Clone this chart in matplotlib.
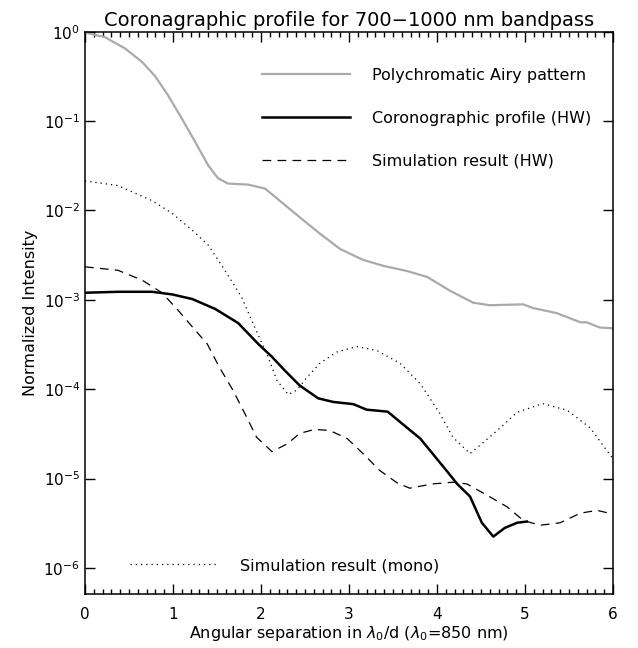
import numpy as np
import matplotlib.pyplot as plt
from matplotlib.ticker import MultipleLocator, FixedLocator, NullLocator

# ------------------------------------------------------------------
# dati (x in lambda0/d, intensita' normalizzata)

# Polychromatic Airy pattern
airy_x = [0, 0.227, 0.455, 0.648, 0.795, 0.943, 1.10, 1.25, 1.40, 1.51, 1.625, 1.85,
          2.045, 2.25, 2.48, 2.67, 2.90, 3.16, 3.39, 3.66, 3.89, 4.15, 4.41, 4.60,
          4.98, 5.09, 5.36, 5.63, 5.70, 5.85, 6.0]
airy_y = [0.98, 0.87, 0.65, 0.46, 0.32, 0.195, 0.107, 0.059, 0.032, 0.023, 0.020, 0.0195,
          0.0176, 0.012, 0.0078, 0.0055, 0.0037, 0.0028, 0.0024, 0.0021, 0.0018, 0.00126,
          0.00093, 0.00087, 0.00089, 0.00081, 0.00071, 0.00056, 0.00056, 0.00049, 0.00048]

# Coronographic profile (HW)
coro_x = [0, 0.375, 0.76, 0.99, 1.22, 1.48, 1.74, 1.97, 2.125, 2.27, 2.44, 2.65,
          2.82, 3.05, 3.20, 3.44, 3.58, 3.81, 3.95, 4.09, 4.23, 4.375, 4.51, 4.64,
          4.77, 4.91, 5.02]
coro_y = [0.0012, 0.00123, 0.00123, 0.00115, 0.00102, 0.00079, 0.00055, 0.00032,
          0.00023, 0.000162, 0.00011, 7.9e-5, 7.2e-5, 6.8e-5, 5.9e-5, 5.6e-5, 4.3e-5,
          2.8e-5, 1.9e-5, 1.29e-5, 8.7e-6, 6.3e-6, 3.2e-6, 2.24e-6, 2.8e-6, 3.2e-6, 3.3e-6]

# Simulation result (HW)
simhw_x = [0, 0.375, 0.65, 0.875, 1.06, 1.25, 1.39, 1.53, 1.68, 1.84, 1.95, 2.125,
           2.30, 2.44, 2.61, 2.78, 2.98, 3.16, 3.35, 3.55, 3.69, 3.95, 4.18, 4.34,
           4.57, 4.80, 4.98, 5.17, 5.40, 5.63, 5.82, 6.0]
simhw_y = [0.00234, 0.00214, 0.00166, 0.0012, 0.00076, 0.00046, 0.00032, 0.000174,
           9.8e-5, 4.8e-5, 2.9e-5, 2.0e-5, 2.45e-5, 3.2e-5, 3.55e-5, 3.45e-5, 2.8e-5,
           1.9e-5, 1.23e-5, 8.9e-6, 7.8e-6, 8.7e-6, 9.1e-6, 8.7e-6, 6.5e-6, 4.8e-6,
           3.4e-6, 3.0e-6, 3.2e-6, 4.1e-6, 4.4e-6, 4.0e-6]

# Simulation result (mono)
mono_x = [0, 0.375, 0.76, 0.99, 1.22, 1.40, 1.59, 1.78, 1.93, 2.08, 2.18, 2.31,
          2.41, 2.52, 2.67, 2.86, 3.09, 3.32, 3.58, 3.81, 4.03, 4.18, 4.375, 4.52,
          4.72, 4.91, 5.2, 5.48, 5.74, 6.0]
mono_y = [0.0214, 0.019, 0.0129, 0.0093, 0.006, 0.0041, 0.00214, 0.00107, 0.00049,
          0.00023, 0.000126, 8.7e-5, 9.8e-5, 1.35e-4, 1.95e-4, 2.6e-4, 3.0e-4, 2.7e-4,
          1.95e-4, 1.15e-4, 5.4e-5, 2.9e-5, 1.9e-5, 2.5e-5, 3.7e-5, 5.5e-5, 6.9e-5,
          5.8e-5, 3.7e-5, 1.66e-5]

y_ticks = [1e-6, 1e-5, 1e-4, 1e-3, 1e-2, 1e-1, 1e0]

# ------------------------------------------------------------------

plt.rcParams['font.family'] = ['DejaVu Sans']
plt.rcParams['mathtext.fontset'] = 'dejavusans'

fig = plt.figure(figsize=(6.38, 6.48), dpi=100)
ax = fig.add_axes([0.1332, 0.0833, 0.8276, 0.8677])

l_airy, = ax.plot(airy_x, airy_y, color='#aaaaaa', lw=1.6, label='Polychromatic Airy pattern')
l_coro, = ax.plot(coro_x, coro_y, color='black', lw=1.8, label='Coronographic profile (HW)')
l_simhw, = ax.plot(simhw_x, simhw_y, color='black', lw=0.9, dashes=(7, 5),
                   label='Simulation result (HW)')
l_mono, = ax.plot(mono_x, mono_y, color='black', lw=0.9, dashes=(1, 3.2),
                  label='Simulation result (mono)')

ax.set_yscale('log')
ax.set_xlim(0, 6)
ax.set_ylim(5.1e-7, 1.0)

ax.xaxis.set_major_locator(MultipleLocator(1))
ax.xaxis.set_minor_locator(MultipleLocator(0.1))
ax.yaxis.set_major_locator(FixedLocator(y_ticks))
ax.yaxis.set_minor_locator(NullLocator())

ax.tick_params(which='both', direction='in', top=True, right=True, labelsize=11, width=1)
ax.tick_params(which='major', length=7)
ax.tick_params(which='minor', length=3.5)
ax.tick_params(axis='x', pad=9)
for s in ax.spines.values():
    s.set_linewidth(1.1)

ax.set_title('Coronagraphic profile for 700\u22121000 nm bandpass', fontsize=14, pad=4)
ax.set_xlabel('Angular separation in $\\lambda_0$/d ($\\lambda_0$=850 nm)', fontsize=11.5, labelpad=2)
ax.set_ylabel('Normalized Intensity', fontsize=11.5, labelpad=4)

leg1 = ax.legend(handles=[l_airy, l_coro, l_simhw], loc='upper left',
                 bbox_to_anchor=(0.335, 0.936), frameon=False, fontsize=11.5,
                 handlelength=5.5, handletextpad=1.4, labelspacing=1.75,
                 borderpad=0, borderaxespad=0)
ax.add_artist(leg1)
ax.legend(handles=[l_mono], loc='upper left', bbox_to_anchor=(0.085, 0.064),
          frameon=False, fontsize=11.5, handlelength=5.5, handletextpad=1.4,
          borderpad=0, borderaxespad=0)

plt.savefig('out.png', dpi=100)
